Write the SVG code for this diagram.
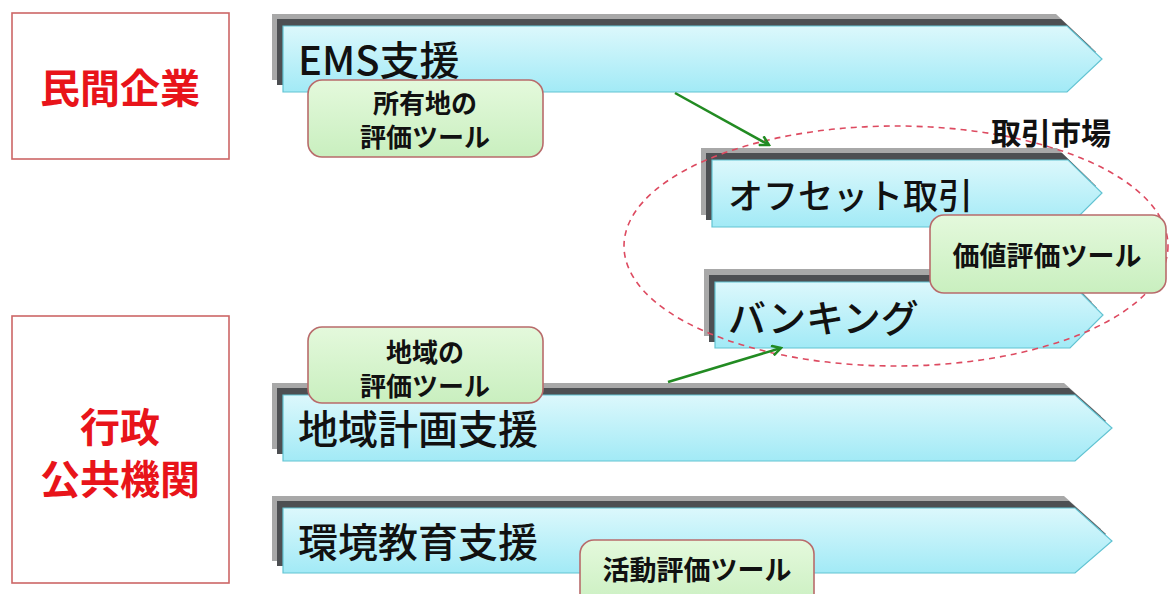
<svg xmlns="http://www.w3.org/2000/svg" width="1170" height="594" viewBox="0 0 1170 594">
<defs>
<linearGradient id="cy" x1="0" y1="0" x2="0" y2="1">
<stop offset="0" stop-color="#dcf8fc"/>
<stop offset="1" stop-color="#a2eaf6"/>
</linearGradient>
<linearGradient id="gr" x1="0" y1="0" x2="0" y2="1">
<stop offset="0" stop-color="#e4f9dc"/>
<stop offset="1" stop-color="#c9efbf"/>
</linearGradient>
<marker id="ah" viewBox="0 0 12 12" refX="10" refY="6" markerWidth="12" markerHeight="12" markerUnits="userSpaceOnUse" orient="auto">
<path d="M1,1 L10,6 L1,11" fill="none" stroke="#228b22" stroke-width="2.5"/>
</marker>
</defs>
<style>
.org{fill:#fff;stroke:#cc6666;stroke-width:1.6}
.orgt{font-family:"Noto Sans CJK JP",sans-serif;font-weight:bold;font-size:40px;fill:#e8141a;text-anchor:middle;dominant-baseline:central}
.sh1{fill:#a8a8a8}
.sh2{fill:#4d4f52}
.bar{fill:url(#cy);stroke:#62c3d2;stroke-width:1.2}
.bt{font-family:"Noto Sans CJK JP",sans-serif;font-weight:500;font-size:40px;fill:#111;dominant-baseline:central}
.tool{fill:url(#gr);stroke:#b86b6b;stroke-width:1.6}
.tt{font-family:"Noto Sans CJK JP",sans-serif;font-weight:bold;font-size:26px;fill:#111;text-anchor:middle;dominant-baseline:central}
.conn{fill:none;stroke:#228b22;stroke-width:2.5}
</style>
<rect width="1170" height="594" fill="#fff"/>

<g id="org-private">
<rect class="org" x="12" y="13" width="217" height="146"/>
<text class="orgt" x="120" y="86">民間企業</text>
</g>
<g id="org-public">
<rect class="org" x="12" y="316" width="217" height="267"/>
<text class="orgt" x="120" y="425">行政</text>
<text class="orgt" x="120" y="477">公共機関</text>
</g>

<g id="bar-ems">
<path class="sh1" d="M272,14 H1056 L1091,47 L1056,80 H272 Z"/>
<path class="sh2" d="M277,19 H1061 L1096,52 L1061,85 H277 Z"/>
<path class="bar" d="M283,26 H1067 L1102,59 L1067,92 H283 Z"/>
<text class="bt" x="298" y="58">EMS支援</text>
</g>
<g id="bar-offset">
<path class="sh1" d="M701,148 H1057 L1091,181 L1057,215 H701 Z"/>
<path class="sh2" d="M706,153 H1062 L1096,186 L1062,220 H706 Z"/>
<path class="bar" d="M712,160 H1068 L1102,193 L1068,227 H712 Z"/>
<text class="bt" x="728" y="193" style="font-size:35px">オフセット取引</text>
</g>
<g id="bar-banking">
<path class="sh1" d="M704,269 H1059 L1092,302 L1059,336 H704 Z"/>
<path class="sh2" d="M709,275 H1064 L1097,308 L1064,342 H709 Z"/>
<path class="bar" d="M715,282 H1070 L1103,315 L1070,348 H715 Z"/>
<text class="bt" x="728" y="315" style="font-size:38px">バンキング</text>
</g>
<g id="bar-regional">
<path class="sh1" d="M272,383 H1064 L1101,416 L1064,449 H272 Z"/>
<path class="sh2" d="M277,388 H1069 L1106,421 L1069,454 H277 Z"/>
<path class="bar" d="M283,395 H1075 L1112,428 L1075,461 H283 Z"/>
<text class="bt" x="298" y="427">地域計画支援</text>
</g>
<g id="bar-education">
<path class="sh1" d="M272,496 H1064 L1101,529 L1064,561 H272 Z"/>
<path class="sh2" d="M277,501 H1069 L1106,534 L1069,566 H277 Z"/>
<path class="bar" d="M283,508 H1075 L1112,541 L1075,573 H283 Z"/>
<text class="bt" x="298" y="540">環境教育支援</text>
</g>

<g id="market">
<ellipse cx="896" cy="246" rx="272" ry="120" fill="none" stroke="#dd4a60" stroke-width="1.6" stroke-dasharray="6,5"/>
<text x="1051" y="131" style="font-family:'Noto Sans CJK JP',sans-serif;font-weight:bold;font-size:30px;fill:#111;text-anchor:middle;dominant-baseline:central">取引市場</text>
</g>

<g id="tool-land">
<rect class="tool" x="308" y="80" width="235" height="77" rx="14"/>
<text class="tt" x="425" y="101">所有地の</text>
<text class="tt" x="425" y="135">評価ツール</text>
</g>
<g id="tool-value">
<rect class="tool" x="930" y="215" width="236" height="78" rx="14"/>
<text class="tt" x="1047" y="254" style="font-size:27px">価値評価ツール</text>
</g>
<g id="tool-region">
<rect class="tool" x="308" y="327" width="235" height="76" rx="14"/>
<text class="tt" x="425" y="350">地域の</text>
<text class="tt" x="425" y="384">評価ツール</text>
</g>
<g id="tool-activity">
<rect class="tool" x="580" y="540" width="234" height="70" rx="14"/>
<text class="tt" x="697" y="568" style="font-size:27px">活動評価ツール</text>
</g>

<g id="connectors">
<line class="conn" x1="675" y1="93" x2="769" y2="145" marker-end="url(#ah)"/>
<line class="conn" x1="668" y1="382" x2="781" y2="348" marker-end="url(#ah)"/>
</g>
</svg>
